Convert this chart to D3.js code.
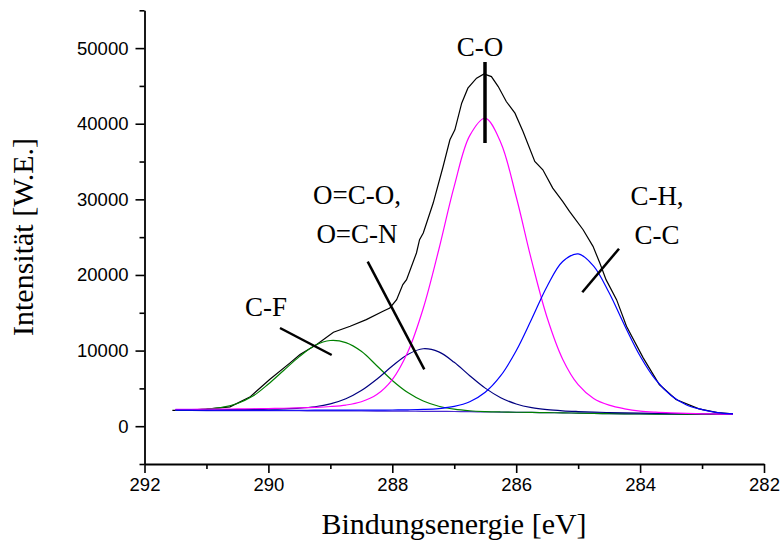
<!DOCTYPE html>
<html><head><meta charset="utf-8">
<script src="https://cdn.jsdelivr.net/npm/d3@7"></script>
<style>
body{margin:0;background:#fff}
svg{display:block}
.tick text{font-family:"Liberation Sans",Arial,sans-serif;font-size:18.5px;fill:#000}
.serif{font-family:"Liberation Serif","Times New Roman",serif;fill:#000}
</style>
</head><body>
<svg id="chart" width="781" height="548"></svg>
<script>
// ---- data ----
const energyGrid = [291.5,291.25,291.0,290.75,290.5,290.25,290.0,289.75,289.5,289.25,289.0,288.75,288.5,288.25,288.0,287.75,287.5,287.25,287.0,286.75,286.5,286.25,286.0,285.75,285.5,285.25,285.0,284.75,284.5,284.25,284.0,283.75,283.5,283.25,283.0,282.75,282.5];
const backgroundValues = [2080,2075,2070,2065,2060,2055,2050,2045,2040,2035,2030,2020,2010,2000,1990,1980,1970,1955,1940,1915,1890,1865,1840,1815,1790,1760,1730,1695,1660,1635,1610,1595,1580,1570,1560,1555,1550];
const cfValues  = [2100,2150,2260,2480,3000,3980,5580,7400,9200,10680,11330,11050,9900,8000,6050,4450,3330,2640,2250,2040,1935,1878,1843,1815,1790,1760,1730,1695,1660,1635,1610,1595,1580,1570,1560,1555,1550];
const ocoValues = [2158,2163,2171,2181,2194,2214,2243,2292,2385,2575,2949,3625,4712,6216,7951,9489,10243,9822,8444,6680,5035,3773,2939,2451,2184,2032,1937,1863,1801,1756,1715,1687,1661,1642,1625,1613,1603];
const coValues  = [2223,2233,2245,2261,2280,2305,2335,2373,2423,2492,2601,2798,3228,4180,6159,9804,15591,23334,31742,38422,40724,37529,30340,21862,14335,8862,5487,3669,2779,2300,2000,1850,1760,1700,1640,1600,1580];
const chValues  = [2114,2112,2109,2108,2107,2106,2106,2107,2109,2112,2117,2120,2123,2131,2141,2168,2219,2334,2616,3236,4486,6675,9984,14183,18517,21774,22780,21178,17637,13323,9277,6142,4058,2800,2200,1800,1640];

const envelopeEnergy = [291.55,291.30,291.00,290.62,290.30,289.98,289.65,289.49,289.22,288.95,288.68,288.42,288.15,288.04,287.93,287.83,287.77,287.61,287.56,287.50,287.34,287.18,287.07,286.99,286.88,286.78,286.64,286.52,286.40,286.29,286.16,286.02,285.89,285.70,285.57,285.41,285.25,285.14,285.08,284.92,284.76,284.65,284.55,284.38,284.22,283.95,283.69,283.42,283.05,282.75,282.50];
const envelopeIntensity = [2080,2120,2250,2550,3850,6169,8375,9472,10793,12417,13210,14095,15192,15641,16737,18719,19379,22906,24663,25548,29511,34346,37873,39194,42721,44703,46024,46592,46235,44914,42933,41400,38970,35007,33910,31493,29723,28402,27741,25984,23778,21585,19379,16737,13210,9036,5508,3527,2299,1800,1640];

const xMajorTicks = [292,290,288,286,284,282];
const xMinorTicks = [291,289,287,285,283];
const yMajorTicks = [0,10000,20000,30000,40000,50000];
const yMinorTicks = [-5000,5000,15000,25000,35000,45000,55000];

const xTitle = "Bindungsenergie [eV]";
const yTitle = "Intensität [W.E.]";

// ---- layout ----
const svg = d3.select("#chart");
const x = d3.scaleLinear().domain([292,282]).range([144.5,764]);
const y = d3.scaleLinear().domain([-5000,55000]).range([464,10.3]);

const series = [
  {values: cfValues,  color:"#008000"},
  {values: ocoValues, color:"#000080"},
  {values: coValues,  color:"#ff00ff"},
  {values: chValues,  color:"#0000ff"}
];

// envelope (measured data)
const envLine = d3.line().x(d=>x(d[0])).y(d=>y(d[1])).curve(d3.curveLinear);
svg.append("path")
  .attr("d", envLine(envelopeEnergy.map((e,i)=>[e,envelopeIntensity[i]])))
  .attr("fill","none").attr("stroke","#000").attr("stroke-width",1.2);

const compLine = d3.line().x(d=>x(d[0])).y(d=>y(d[1])).curve(d3.curveCatmullRom.alpha(0.5));
svg.append("path")
  .attr("d", compLine(energyGrid.map((e,i)=>[e,backgroundValues[i]])))
  .attr("fill","none").attr("stroke","#4b2ad0").attr("stroke-width",1.2);
series.forEach(s=>{
  svg.append("path")
    .attr("d", compLine(energyGrid.map((e,i)=>[e,s.values[i]])))
    .attr("fill","none").attr("stroke",s.color).attr("stroke-width",1.2);
});

// axes
const gx = svg.append("g").attr("transform",`translate(0,${y(-5000)})`);
gx.call(d3.axisBottom(x).tickValues(xMajorTicks).tickSize(9).tickSizeOuter(0).tickPadding(5).tickFormat(d3.format("d")));
const gxm = svg.append("g").attr("transform",`translate(0,${y(-5000)})`);
gxm.call(d3.axisBottom(x).tickValues(xMinorTicks).tickSize(5).tickSizeOuter(0).tickFormat(""));
gxm.select(".domain").remove();

const gy = svg.append("g").attr("transform",`translate(${x(292)},0)`);
gy.call(d3.axisLeft(y).tickValues(yMajorTicks).tickSize(9).tickSizeOuter(0).tickPadding(7).tickFormat(d3.format("d")));
const gym = svg.append("g").attr("transform",`translate(${x(292)},0)`);
gym.call(d3.axisLeft(y).tickValues(yMinorTicks).tickSize(5).tickSizeOuter(0).tickFormat(""));
gym.select(".domain").remove();

svg.selectAll(".domain").attr("stroke","#000").attr("stroke-width",1.8);
svg.selectAll(".tick line").attr("stroke","#000").attr("stroke-width",1.6);

// axis titles
svg.append("text").attr("class","serif").attr("x",454).attr("y",534)
  .attr("text-anchor","middle").style("font-size","30px").text(xTitle);
svg.append("text").attr("class","serif")
  .attr("transform","translate(33,237) rotate(-90)")
  .attr("text-anchor","middle").style("font-size","30px").text(yTitle);

// annotations
const annotations = [
  {lines:["C-O"], cx:480, base:[56], seg:[485,62,485,143], w:3.5},
  {lines:["C-F"], cx:266, base:[316], seg:[280,328,331.7,355], w:2.5},
  {lines:["O=C-O,","O=C-N"], cx:357, base:[204,243], seg:[367.7,261.7,424.3,369.3], w:2.5},
  {lines:["C-H,","C-C"], cx:657, base:[205,244], seg:[619,248.7,582.3,292.3], w:2.5}
];
annotations.forEach(a=>{
  a.lines.forEach((t,i)=>{
    svg.append("text").attr("class","serif").attr("x",a.cx).attr("y",a.base[i])
      .attr("text-anchor","middle").style("font-size","27px").text(t);
  });
  svg.append("line").attr("x1",a.seg[0]).attr("y1",a.seg[1]).attr("x2",a.seg[2]).attr("y2",a.seg[3])
    .attr("stroke","#000").attr("stroke-width",a.w);
});
</script>
</body></html>
